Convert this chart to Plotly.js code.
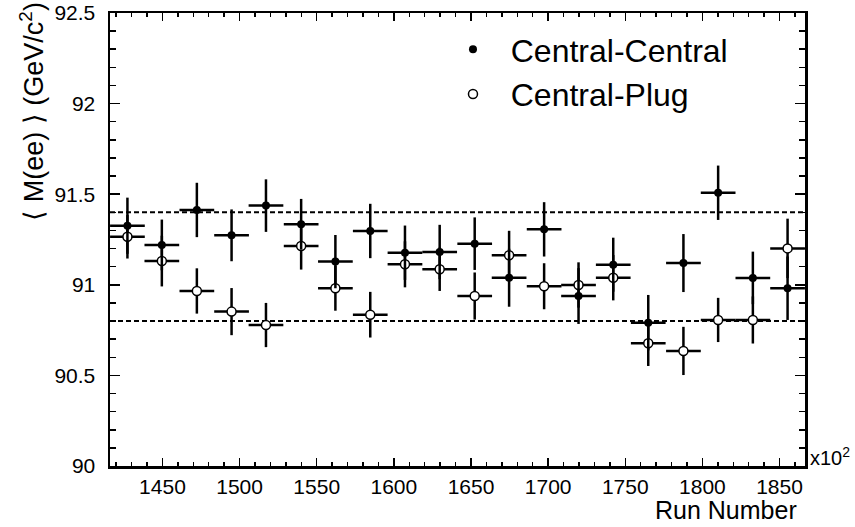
<!DOCTYPE html>
<html>
<head>
<meta charset="utf-8">
<script src="https://cdn.plot.ly/plotly-3.0.1.min.js"></script>
<style>html,body{margin:0;padding:0;background:#fff;}#chart{width:855px;height:527px;}</style>
</head>
<body>
<div id="chart"></div>
<script>
// Run numbers (x10^2), bin centres
var runs = [1427.3, 1449.6, 1472.3, 1494.8, 1517.1, 1539.9, 1562.1, 1584.7, 1607.2, 1629.7,
            1652.4, 1674.7, 1697.4, 1719.7, 1742.2, 1764.9, 1787.7, 1810.2, 1832.7, 1855.2];
var runHalfWidth = 11.25;
// Central-Central <M(ee)> and errors
var ccMass = [91.326, 91.220, 91.413, 91.273, 91.437, 91.334, 91.128, 91.297, 91.177, 91.181,
              91.227, 91.039, 91.306, 90.938, 91.111, 90.791, 91.120, 91.508, 91.038, 90.981];
var ccErr  = [0.155, 0.140, 0.150, 0.143, 0.145, 0.140, 0.147, 0.150, 0.150, 0.150,
              0.145, 0.160, 0.150, 0.154, 0.149, 0.153, 0.160, 0.150, 0.145, 0.175];
// Central-Plug <M(ee)> and errors
var cpMass = [91.265, 91.131, 90.966, 90.852, 90.778, 91.214, 90.981, 90.835, 91.113, 91.086,
              90.938, 91.163, 90.992, 90.999, 91.039, 90.677, 90.635, 90.806, 90.806, 91.201];
var cpErr  = [0.120, 0.140, 0.125, 0.130, 0.122, 0.130, 0.124, 0.126, 0.127, 0.120,
              0.130, 0.135, 0.127, 0.125, 0.125, 0.125, 0.133, 0.122, 0.130, 0.164];
// reference band lines
var bandLines = [91.4, 90.8];
var seriesNames = ['Central-Central', 'Central-Plug'];
var xTitle = 'Run Number';
var yTitle = '\u27E8 M(ee) \u27E9 (GeV/c<sup>2</sup>)';

var FONT = 'Liberation Sans, Arial, Helvetica, sans-serif';
var NB = '\u00A0\u00A0';

var traceCP = {
  x: runs, y: cpMass, type: 'scatter', mode: 'markers', name: NB + seriesNames[1],
  marker: {symbol: 'circle', size: 9, color: '#ffffff', line: {color: '#000', width: 1.5}},
  error_y: {type: 'data', array: cpErr, visible: true, color: '#000', thickness: 2.5, width: 0},
  error_x: {type: 'constant', value: runHalfWidth, visible: true, color: '#000', thickness: 2.5, width: 0}
};
var traceCC = {
  x: runs, y: ccMass, type: 'scatter', mode: 'markers', name: NB + seriesNames[0],
  marker: {symbol: 'circle', size: 8, color: '#000'},
  error_y: {type: 'data', array: ccErr, visible: true, color: '#000', thickness: 2.5, width: 0},
  error_x: {type: 'constant', value: runHalfWidth, visible: true, color: '#000', thickness: 2.5, width: 0}
};

var shapes = bandLines.map(function (v) {
  return {type: 'line', xref: 'paper', x0: 0, x1: 1, yref: 'y', y0: v, y1: v,
          line: {color: '#000', width: 2, dash: '5px,3px'}, layer: 'below'};
});

var layout = {
  width: 855, height: 527,
  margin: {l: 110, r: 50, t: 13, b: 61},
  paper_bgcolor: '#fff', plot_bgcolor: '#fff',
  font: {family: FONT, color: '#000'},
  showlegend: true,
  legend: {x: 0.4935, y: 0.98, xanchor: 'left', yanchor: 'top', traceorder: 'reversed',
           font: {family: FONT, size: 32, color: '#000'}, bgcolor: 'rgba(0,0,0,0)'},
  xaxis: {
    range: [1416, 1866.5], showgrid: false, zeroline: false,
    showline: true, linecolor: '#000', linewidth: 2.5, mirror: 'allticks',
    ticks: 'inside', ticklen: 8, tickwidth: 1.5, tickcolor: '#000',
    tick0: 1450, dtick: 50, tickfont: {family: FONT, size: 21, color: '#000'},
    ticklabelstandoff: 0,
    minor: {dtick: 10, ticks: 'inside', ticklen: 4, tickwidth: 1.5, tickcolor: '#000'}
  },
  yaxis: {
    range: [90, 92.5], showgrid: false, zeroline: false,
    showline: true, linecolor: '#000', linewidth: 2.5, mirror: 'allticks',
    ticks: 'inside', ticklen: 10, tickwidth: 1.5, tickcolor: '#000',
    tick0: 90, dtick: 0.5, tickfont: {family: FONT, size: 21, color: '#000'},
    ticklabelstandoff: 8,
    minor: {dtick: 0.1, ticks: 'inside', ticklen: 6, tickwidth: 1.5, tickcolor: '#000'}
  },
  shapes: shapes,
  annotations: [
    {text: xTitle, xref: 'paper', yref: 'paper', x: 0.991, y: -0.097, xanchor: 'right', yanchor: 'middle',
     showarrow: false, font: {family: FONT, size: 25, color: '#000'}},
    {text: 'x10<sup>2</sup>', xref: 'paper', yref: 'paper', x: 1.004, y: 0.02, xanchor: 'left', yanchor: 'middle',
     showarrow: false, font: {family: FONT, size: 20, color: '#000'}},
    {text: yTitle, xref: 'paper', yref: 'paper', x: -0.112, y: 1.0287, xanchor: 'center', yanchor: 'top',
     textangle: -90, showarrow: false, font: {family: FONT, size: 27, color: '#000'}}
  ]
};

Plotly.newPlot('chart', [traceCP, traceCC], layout, {staticPlot: true, displayModeBar: false});
</script>
</body>
</html>
